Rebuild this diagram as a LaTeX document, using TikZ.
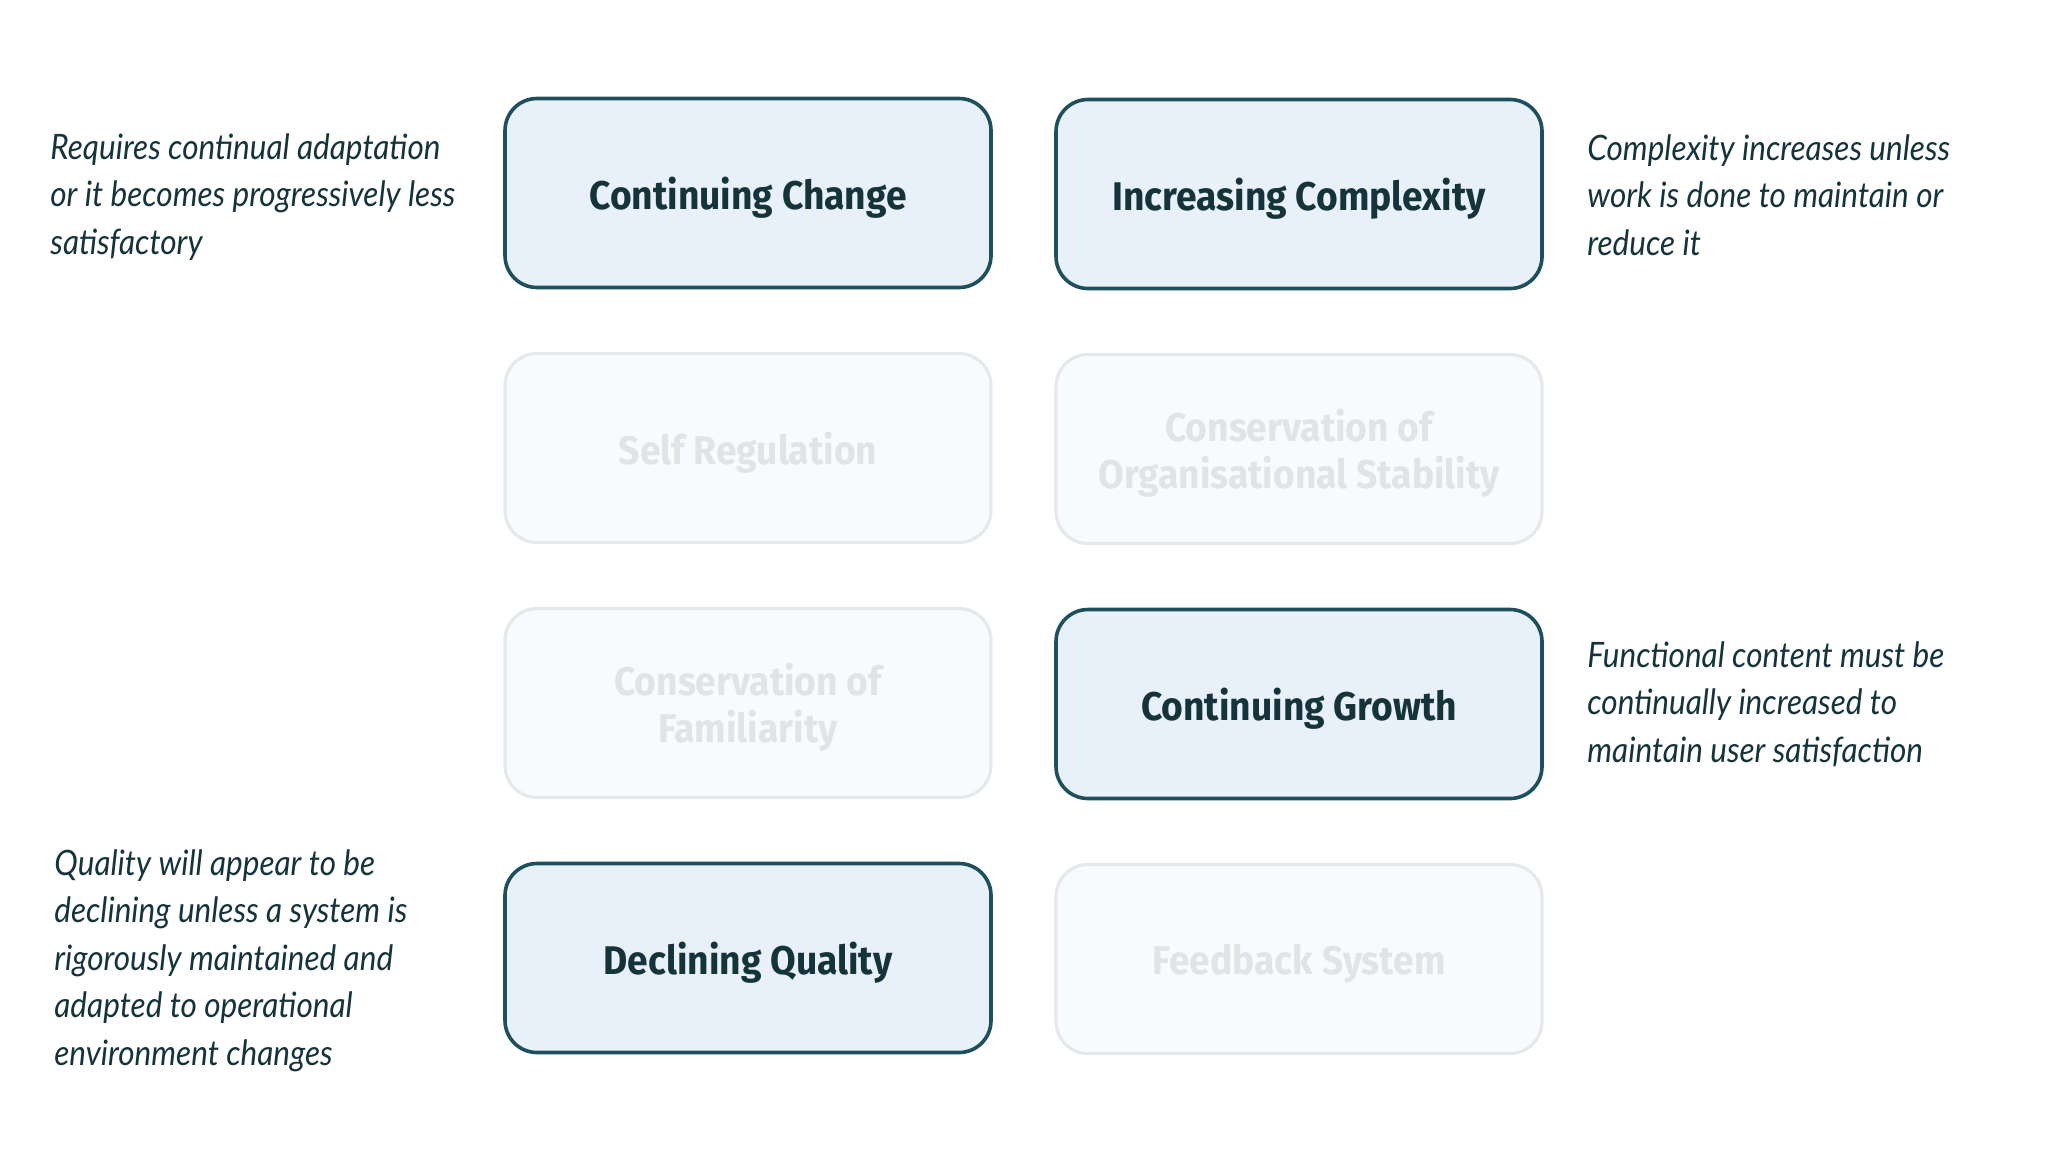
\documentclass[tikz,border=0pt]{standalone}
\usepackage{fontspec}
\usepackage{xcolor}
\usepackage{tikz}

\setmainfont{Fira Sans}
\newfontfamily\boxfont[FakeStretch=0.93]{Fira Sans}
\newfontfamily\notefont[FakeStretch=0.9]{Lato}

\definecolor{lawline}{HTML}{1D4F5C}
\definecolor{lawfill}{HTML}{E8F0F9}
\definecolor{lawtext}{HTML}{15333B}
\definecolor{fadeline}{HTML}{E6E9EB}
\definecolor{fadefill}{HTML}{F8FBFD}
\definecolor{fadetext}{HTML}{E0E4E6}

\begin{document}
\begin{tikzpicture}[x=0.5pt,y=-0.5pt,
    law/.style={draw=lawline, fill=lawfill, line width=1.8pt, rounded corners=16pt,
        minimum width=243pt, minimum height=94.5pt, align=center, text depth=0pt,
        text=lawtext, font=\boxfont\bfseries\fontsize{20}{23.5}\selectfont},
    fadedlaw/.style={law, draw=fadeline, fill=fadefill, text=fadetext, line width=1.6pt},
    note/.style={anchor=north west, inner sep=0pt, align=left, text=lawtext,
        font=\notefont\itshape\fontsize{17.5}{23.75}\selectfont}]

        % Background
        \fill[white] (0,0) rectangle (2048,1152);

        % Draw the eight laws
        \node[law] (change) at (748,193) {Continuing Change};
        \node[law] (complexity) at (1299,194) {Increasing Complexity};
        \node[fadedlaw] (regulation) at (748,448) {Self Regulation};
        \node[fadedlaw] (stability) at (1299,449) {Conservation of\\Organisational Stability};
        \node[fadedlaw] (familiarity) at (748,703) {Conservation of\\Familiarity};
        \node[law] (growth) at (1299,704) {Continuing Growth};
        \node[law] (quality) at (748,958) {Declining Quality};
        \node[fadedlaw] (feedback) at (1299,959) {Feedback System};

        % Notes beside the highlighted laws
        \node[note] (changenote) at (50,133) {Requires continual adaptation\\or it becomes progressively less\\satisfactory};
        \node[note] (complexitynote) at (1587,134) {Complexity increases unless\\work is done to maintain or\\reduce it};
        \node[note] (growthnote) at (1587,641) {Functional content must be\\continually increased to\\maintain user satisfaction};
        \node[note] (qualitynote) at (54,849) {Quality will appear to be\\declining unless a system is\\rigorously maintained and\\adapted to operational\\environment changes};

\end{tikzpicture}
\end{document}
